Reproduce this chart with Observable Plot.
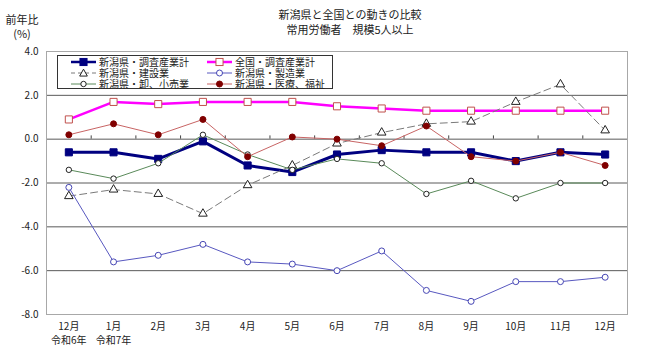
<!DOCTYPE html>
<html><head><meta charset="utf-8">
<script src="https://cdn.jsdelivr.net/npm/d3@7"></script>
<script src="https://cdn.jsdelivr.net/npm/@observablehq/plot@0.6"></script>
<style>
body{margin:0;background:#fff;font-family:"Noto Sans CJK JP","Noto Sans",sans-serif;}
#wrap{position:relative;width:650px;height:350px;overflow:hidden;}
#wrap > svg{position:absolute;left:0;top:0;}
.t{position:absolute;color:#222;white-space:nowrap;line-height:1;}
#legend{position:absolute;left:57px;top:55px;width:274px;height:32px;border:1px solid #333;background:#fff;}
#legend .li{position:absolute;display:flex;align-items:center;font-size:10px;color:#222;white-space:nowrap;line-height:10px;height:10px;}
#legend .li svg{position:static;margin-right:3px;flex:none;display:block;}
#legend .li span{display:block;height:10px;line-height:10px;overflow:visible;}
</style></head><body><div id="wrap"></div>
<script>
// ---- data ----
const months = ["12月","1月","2月","3月","4月","5月","6月","7月","8月","9月","10月","11月","12月"];
const eraLabels = ["令和6年","令和7年"];
const seriesNames = ["新潟県・調査産業計","全国・調査産業計","新潟県・建設業","新潟県・製造業","新潟県・卸、小売業","新潟県・医療、福祉"];
const niigataAll    = [-0.6,-0.6,-0.9,-0.1,-1.2,-1.5,-0.7,-0.5,-0.6,-0.6,-1.0,-0.6,-0.7];
const nationalAll   = [0.9,1.7,1.6,1.7,1.7,1.7,1.5,1.4,1.3,1.3,1.3,1.3,1.3];
const construction  = [-2.6,-2.3,-2.5,-3.4,-2.1,-1.2,-0.2,0.3,0.7,0.8,1.7,2.5,0.4];
const manufacturing = [-2.2,-5.6,-5.3,-4.8,-5.6,-5.7,-6.0,-5.1,-6.9,-7.4,-6.5,-6.5,-6.3];
const wholesale     = [-1.4,-1.8,-1.1,0.2,-0.7,-1.4,-0.9,-1.1,-2.5,-1.9,-2.7,-2.0,-2.0];
const medical       = [0.2,0.7,0.2,0.9,-0.8,0.1,0.0,-0.3,0.6,-0.8,-1.0,-0.6,-1.2];
const yTicks = [-8,-6,-4,-2,0,2,4];
const titleLines = ["新潟県と全国との動きの比較","常用労働者　規模5人以上"];
const yTitle = ["前年比","(%)"];

// ---- styles ----
const styles = [
  {line:"#000080", width:3,   dash:null,  symbol:"square",   r:4,   fill:"#000080", stroke:"#000080"},
  {line:"#ff00ff", width:2.5, dash:null,  symbol:"square",   r:4,   fill:"#ffffff", stroke:"#c0504d"},
  {line:"#7a7a7a", width:1,   dash:"7,4", symbol:"triangle", r:3.2, fill:"#ffffff", stroke:"#222"},
  {line:"#5858c0", width:1,   dash:null,  symbol:"circle",   r:3,   fill:"#ffffff", stroke:"#4646b4"},
  {line:"#5a8a5a", width:1,   dash:null,  symbol:"circle",   r:2.7, fill:"#ffffff", stroke:"#222"},
  {line:"#c86464", width:1,   dash:null,  symbol:"circle",   r:3,   fill:"#800000", stroke:"#800000"}
];
const allValues = [niigataAll, nationalAll, construction, manufacturing, wholesale, medical];
const series = allValues.map((vals, k) => vals.map((v, i) => ({i, v, k})));

const font = '"Noto Sans CJK JP","Noto Sans",sans-serif';
const marks = [
  Plot.ruleY(yTicks.filter(v => v > -8 && v < 4), {stroke:"#5a5a5a", strokeWidth:1}),
  Plot.frame({stroke:"#a8a8a8"}),
  Plot.ruleX(d3.range(12).map(i => i + 0.5), {y1:0, y2:0.15, stroke:"#444"}),
  Plot.axisX({ticks:d3.range(13), tickFormat:i => months[i], tickSize:0, tickPadding:8, label:null}),
  Plot.axisX({ticks:[0,1], tickFormat:i => eraLabels[i], tickSize:0, tickPadding:22, label:null}),
  Plot.axisY({ticks:yTicks, tickFormat:d => d.toFixed(1), tickSize:0, tickPadding:8, label:null})
];
series.forEach((data, k) => {
  const s = styles[k];
  marks.push(Plot.line(data, {x:"i", y:"v", stroke:s.line, strokeWidth:s.width, strokeDasharray:s.dash || undefined}));
  marks.push(Plot.dot(data, {x:"i", y:"v", symbol:s.symbol, r:s.r, fill:s.fill, stroke:s.stroke, strokeWidth:1}));
});

const chart = Plot.plot({
  width:650, height:350,
  marginLeft:46, marginRight:23, marginTop:51, marginBottom:36,
  style:{fontFamily:font, fontSize:"10px", color:"#222", background:"transparent"},
  x:{type:"linear", domain:[-0.5,12.5]},
  y:{domain:[-8,4]},
  marks
});
const wrap = document.getElementById("wrap");
wrap.appendChild(chart);

// titles
function addText(txt, x, y, size){
  const d = document.createElement("div");
  d.className = "t";
  d.textContent = txt;
  d.style.fontSize = size + "px";
  d.style.top = y + "px";
  d.style.left = x + "px";
  d.style.transform = "translateX(-50%)";
  wrap.appendChild(d);
}
addText(titleLines[0], 350, 9, 11);
addText(titleLines[1], 350, 24, 11);
addText(yTitle[0], 22, 14, 11);
addText(yTitle[1], 22, 28, 11);

// legend
const legend = document.createElement("div");
legend.id = "legend";
wrap.appendChild(legend);
const symPath = {
  square: r => { const h = r*0.886; return `<rect x="${12.5-h}" y="${5-h}" width="${2*h}" height="${2*h}"/>`; },
  circle: r => `<circle cx="12.5" cy="5" r="${r}"/>`,
  triangle: r => { const h = r*1.2; return `<path d="M12.5,${5-h}L${12.5+h},${5+h*0.8}L${12.5-h},${5+h*0.8}Z"/>`; }
};
seriesNames.forEach((name, k) => {
  const s = styles[k];
  const col = k % 2, row = Math.floor(k / 2);
  const item = document.createElement("div");
  item.className = "li";
  item.style.left = (col === 0 ? 13 : 149) + "px";
  item.style.top = (row * 11 + 0.5) + "px";
  item.innerHTML = `<svg width="25" height="10"><line x1="0" x2="25" y1="5" y2="5" stroke="${s.line}" stroke-width="${Math.min(s.width, 2.5)}" ${s.dash ? `stroke-dasharray="4,3"` : ""}/><g fill="${s.fill}" stroke="${s.stroke}">${symPath[s.symbol](s.r)}</g></svg><span>${name}</span>`;
  legend.appendChild(item);
});
</script></body></html>
